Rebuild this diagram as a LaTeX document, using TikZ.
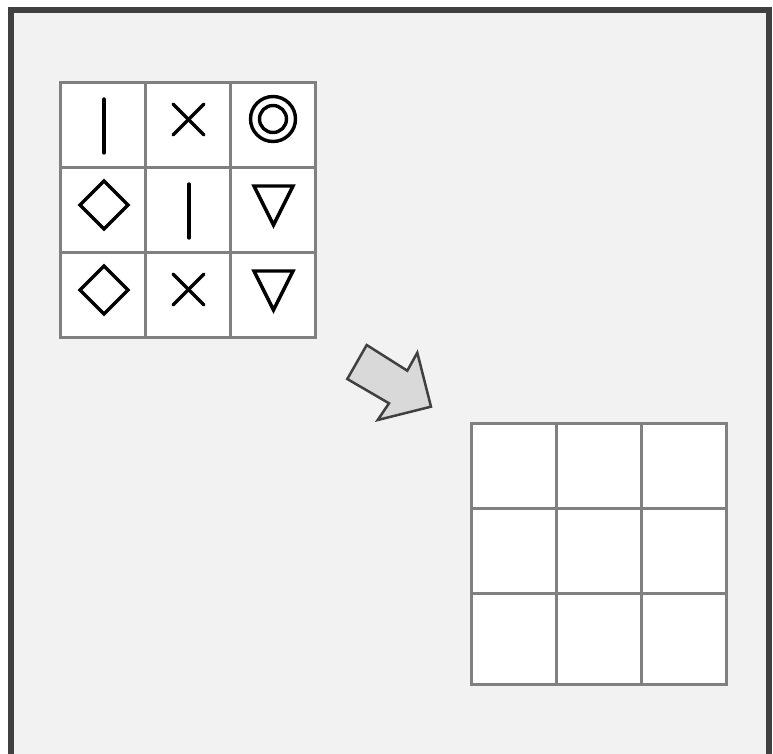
\documentclass[tikz,border=0pt]{standalone}
\usepackage{tikz}
\usetikzlibrary{positioning}

\definecolor{framegray}{HTML}{404040}
\definecolor{panelgray}{HTML}{F2F2F2}
\definecolor{gridgray}{HTML}{808080}
\definecolor{arrowfill}{HTML}{D9D9D9}

\tikzset{
  symline/.style={draw=black, line width=3.4pt, line cap=round},
  pics/symbar/.style={code={\draw[symline] (1,-25.5) -- (1,28.5);}},
  pics/symcross/.style={code={
    \draw[symline] (-15,-20.5) -- (16,10.5);
    \draw[symline] (-15,10.5) -- (16,-20.5);}},
  pics/symring/.style={code={
    \draw[symline] (0,-5.5) circle (22.5);
    \draw[symline] (0,-5.5) circle (13.5);}},
  pics/symdiam/.style={code={\draw[symline] (-23,-4.5) -- (1,-28.5) -- (25,-4.5) -- (1,19.5) -- cycle;}},
  pics/symtri/.style={code={\draw[symline, line join=miter] (-19,-23.5) -- (20,-23.5) -- (0.5,15.5) -- cycle;}}
}

\begin{document}
\begin{tikzpicture}[x=1pt, y=-1pt]
  % Define styles
  \tikzstyle{cell} = [rectangle, draw=gridgray, fill=white, line width=3pt, minimum width=85pt, minimum height=85pt, inner sep=0pt, outer sep=0pt]
  \tikzstyle{tallcell} = [cell, minimum height=91pt]

  \clip (0,0) rectangle (773,753);
  \fill[white] (0,0) rectangle (773,753);

  % Frame
  \draw[framegray, fill=panelgray, line width=6pt] (11,10) rectangle (769,820);

  % Left grid
  \foreach \r in {1,2,3} {
    \foreach \c in {1,2,3} {
      \node[cell] (a\r\c) at ({60.5+85*(\c-0.5)}, {82+85*(\r-0.5)}) {};
    }
  }

  % Symbols
  \pic at (a11.center) {symbar};
  \pic at (a12.center) {symcross};
  \pic at (a13.center) {symring};
  \pic at (a21.center) {symdiam};
  \pic at (a22.center) {symbar};
  \pic at (a23.center) {symtri};
  \pic at (a31.center) {symdiam};
  \pic at (a32.center) {symcross};
  \pic at (a33.center) {symtri};

  % Arrow
  \draw[framegray, fill=arrowfill, line width=2.5pt, line join=miter]
    (366.7,345) -- (407.3,370.7) -- (417.3,352.7) -- (431,406.7)
    -- (377.7,420) -- (389,403.3) -- (347.3,379) -- cycle;

  % Right grid (empty)
  \foreach \r in {1,2} {
    \foreach \c in {1,2,3} {
      \node[cell] (b\r\c) at ({471+85*(\c-0.5)}, {423.5+85*(\r-0.5)}) {};
    }
  }
  \foreach \c in {1,2,3} {
    \node[tallcell, below=0pt of b2\c] (b3\c) {};
  }
\end{tikzpicture}
\end{document}
